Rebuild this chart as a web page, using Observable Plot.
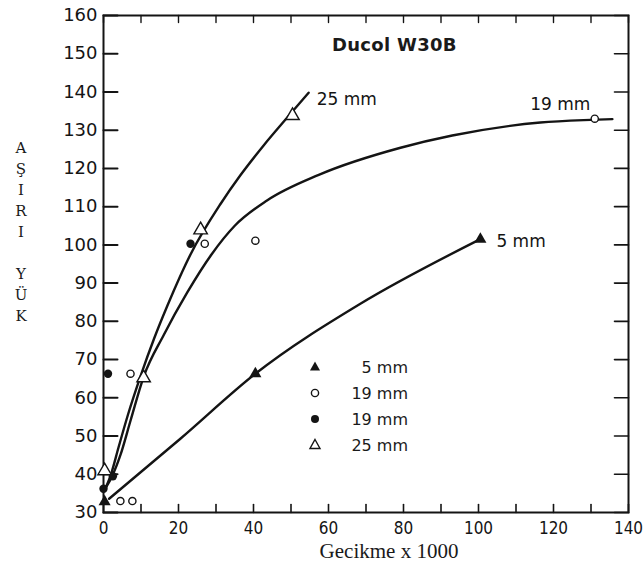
<!DOCTYPE html>
<html>
<head>
<meta charset="utf-8">
<script src="https://cdn.jsdelivr.net/npm/d3@7"></script>
<script src="https://cdn.jsdelivr.net/npm/@observablehq/plot@0.6"></script>
<style>
  body { margin: 0; background: #fff; }
  #wrap { position: relative; width: 644px; height: 571px; overflow: hidden; }
  #chart svg { position: absolute; left: 0; top: 0; }
  .ov { position: absolute; color: #1a1a1a; white-space: nowrap; }
  #ylab { left: 12px; top: 138px; width: 18px; text-align: center; font-family: "DejaVu Serif", serif; font-size: 15px; line-height: 21px; }
  #xlab { left: 0; width: 778px; text-align: center; top: 538px; font-family: "Liberation Serif", serif; font-size: 21px; line-height: 26px; }
  #title { left: 332px; top: 33px; font-family: "DejaVu Sans", sans-serif; font-size: 18px; font-weight: 600; line-height: 24px; letter-spacing: 0.3px; }
  #legend { left: 306px; top: 354px; font-family: "DejaVu Sans", sans-serif; font-size: 16px; }
  #legend .row { display: flex; align-items: center; height: 26px; }
  #legend .row svg { display: block; }
  #legend .lab { width: 84px; text-align: right; }
</style>
</head>
<body>
<div id="wrap">
  <div id="chart"></div>
  <div class="ov" id="ylab">A<br>Ş<br>I<br>R<br>I<br>&nbsp;<br>Y<br>Ü<br>K</div>
  <div class="ov" id="xlab">Gecikme x 1000</div>
  <div class="ov" id="title">Ducol W30B</div>
  <div class="ov" id="legend"></div>
</div>
<script>
// ---- data ----
const curveNames = ["25 mm", "19 mm", "5 mm"];
const curve25X = [0.5, 2, 4, 6.5, 10, 13.5, 17, 23.2, 31.2, 36.5, 42.7, 49, 54.7];
const curve25Y = [36.3, 40, 47, 55.5, 66, 75.5, 84, 97.5, 110.7, 118.2, 126, 133.3, 139.8];
const curve19X = [0.5, 2.3, 4.5, 7.2, 10.7, 16.1, 22.3, 28.8, 35, 43.6, 57.4, 79.2, 93, 116.5, 129.9, 135.7];
const curve19Y = [36.3, 39.5, 45, 54, 65.5, 76.5, 87.5, 97.5, 105, 111.6, 118.3, 125.4, 128.6, 132, 132.7, 132.9];
const curve5X = [1.5, 20.5, 40.5, 68.5, 100.5];
const curve5Y = [33.6, 49.3, 66.3, 84.6, 101.5];

const tri5X = [0.3, 40.5, 100.5];
const tri5Y = [32.8, 66.3, 101.5];
const open19X = [4.5, 7.7, 7.2, 27, 40.5, 131];
const open19Y = [33, 33, 66.3, 100.3, 101.1, 133];
const filled19X = [1.2, 0, 2.5, 23.2];
const filled19Y = [66.3, 36.2, 39.5, 100.3];
const open25X = [0.3, 10.7, 25.9, 50.4];
const open25Y = [40.9, 65.2, 103.9, 133.8];

const legendLabels = ["5 mm", "19 mm", "19 mm", "25 mm"];
const xDomain = [0, 140];
const yDomain = [30, 160];
const xTicks = [0, 10, 20, 30, 40, 50, 60, 70, 80, 90, 100, 110, 120, 130, 140];
const xTickLabels = [0, 20, 40, 60, 80, 100, 120, 140];
const yTicks = [30, 40, 50, 60, 70, 80, 90, 100, 110, 120, 130, 140, 150, 160];

// ---- build tables ----
const toRows = (xs, ys, series) => xs.map((x, i) => ({x, y: ys[i], series}));
const c25 = toRows(curve25X, curve25Y, curveNames[0]);
const c19 = toRows(curve19X, curve19Y, curveNames[1]);
const c5 = toRows(curve5X, curve5Y, curveNames[2]);
const tri5 = toRows(tri5X, tri5Y, "5");
const o19 = toRows(open19X, open19Y, "o19");
const f19 = toRows(filled19X, filled19Y, "f19");
const o25 = toRows(open25X, open25Y, "o25");

const ink = "#141414";
const W = 644, H = 571, mL = 103, mR = 16, mT = 15, mB = 59;
// tick lengths in pixels, converted to data units through the frame size
const xPerPx = (xDomain[1] - xDomain[0]) / (W - mL - mR);
const yPerPx = (yDomain[1] - yDomain[0]) / (H - mT - mB);
const segs = (ticks, f) => ticks.flatMap((t, i) => f(t).map(p => ({...p, k: i})));
const leftTicks = segs(yTicks, y => [{x: xDomain[0], y}, {x: xDomain[0] + 14 * xPerPx, y}]);
const rightTicks = segs(yTicks, y => [{x: xDomain[1], y}, {x: xDomain[1] - 14 * xPerPx, y}]);
const bottomTicks = segs(xTicks, x => [{x, y: yDomain[0]}, {x, y: yDomain[0] + 8 * yPerPx}]);
const topTicks = segs(xTicks, x => [{x, y: yDomain[1]}, {x, y: yDomain[1] - 7 * yPerPx}]);

const chart = Plot.plot({
  width: W,
  height: H,
  marginLeft: mL,
  marginRight: mR,
  marginTop: mT,
  marginBottom: mB,
  x: {domain: xDomain},
  y: {domain: yDomain},
  axis: null,
  style: {fontFamily: "DejaVu Sans, sans-serif", fontSize: "18px", color: ink, background: "white"},
  marks: [
    Plot.frame({stroke: ink, strokeWidth: 2, fill: "none"}),
    // inward ticks on all four sides
    Plot.line(leftTicks, {x: "x", y: "y", z: "k", stroke: ink, strokeWidth: 2}),
    Plot.line(rightTicks, {x: "x", y: "y", z: "k", stroke: ink, strokeWidth: 1.6}),
    Plot.line(bottomTicks, {x: "x", y: "y", z: "k", stroke: ink, strokeWidth: 1.6}),
    Plot.line(topTicks, {x: "x", y: "y", z: "k", stroke: ink, strokeWidth: 1.4}),
    // tick labels
    Plot.axisY({anchor: "left", ticks: yTicks, tickSize: 0, tickPadding: 6, label: null, fill: ink, fontSize: 18}),
    Plot.axisX({anchor: "bottom", ticks: xTickLabels, tickSize: 0, tickPadding: 9, label: null, fill: ink, fontSize: 17, fontFamily: "DejaVu Sans Condensed, DejaVu Sans, sans-serif"}),
    Plot.line(c25, {x: "x", y: "y", curve: "monotone-x", stroke: ink, strokeWidth: 2.4}),
    Plot.line(c19, {x: "x", y: "y", curve: "monotone-x", stroke: ink, strokeWidth: 2.4}),
    Plot.line(c5, {x: "x", y: "y", curve: "monotone-x", stroke: ink, strokeWidth: 2.4}),
    Plot.dot(tri5, {x: "x", y: "y", symbol: "triangle", r: 4.5, fill: ink, stroke: "none"}),
    Plot.dot(o19, {x: "x", y: "y", symbol: "circle", r: 3.6, fill: "white", stroke: ink, strokeWidth: 1.4}),
    Plot.dot(f19, {x: "x", y: "y", symbol: "circle", r: 4.2, fill: ink, stroke: "none"}),
    Plot.dot(o25, {x: "x", y: "y", symbol: "triangle", r: 5, fill: "white", stroke: ink, strokeWidth: 1.4}),
    Plot.text(c25, Plot.selectLast({x: "x", y: "y", text: "series", textAnchor: "start", dx: 8, dy: 7, fontSize: 17, fill: ink})),
    Plot.text(c19, Plot.selectLast({x: "x", y: "y", text: "series", textAnchor: "end", dx: -22, dy: -15, fontSize: 17, fill: ink})),
    Plot.text(c5, Plot.selectLast({x: "x", y: "y", text: "series", textAnchor: "start", dx: 16, dy: 2, fontSize: 17, fill: ink}))
  ]
});
document.getElementById("chart").append(chart);

// ---- legend (HTML overlay) ----
const legendSymbols = [
  '<path d="M0,-5.5L5,3.5L-5,3.5Z" fill="' + ink + '"/>',
  '<circle r="3.6" fill="white" stroke="' + ink + '" stroke-width="1.4"/>',
  '<circle r="4" fill="' + ink + '"/>',
  '<path d="M0,-5.5L5,3.5L-5,3.5Z" fill="white" stroke="' + ink + '" stroke-width="1.4"/>'
];
const legend = document.getElementById("legend");
legendLabels.forEach((lab, i) => {
  const row = document.createElement("div");
  row.className = "row";
  row.innerHTML = '<svg width="18" height="18" viewBox="-9 -9 18 18">' + legendSymbols[i] + '</svg><span class="lab">' + lab + '</span>';
  legend.append(row);
});
</script>
</body>
</html>
